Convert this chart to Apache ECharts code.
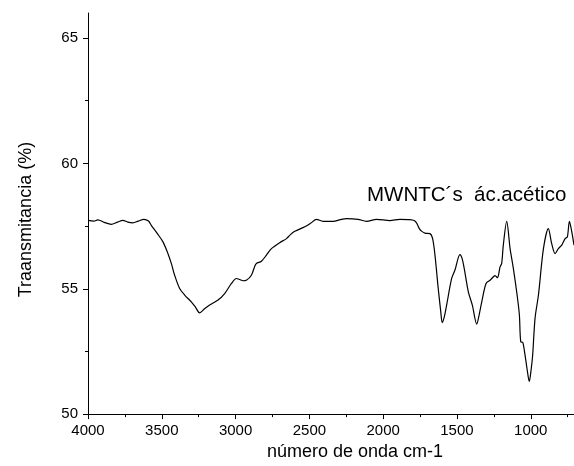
<!DOCTYPE html>
<html>
<head>
<meta charset="utf-8">
<script src="https://cdn.jsdelivr.net/npm/echarts@6/dist/echarts.min.js"></script>
<style>
    html, body { margin: 0; padding: 0; background: #fff; }
    #chart { width: 574px; height: 466px; }
</style>
</head>
<body>
<div id="chart"></div>
<script>
// numero de onda (cm-1)
const wavenumber = [
    4000, 3960, 3933, 3890, 3843, 3800, 3764, 3730, 3696, 3660,
    3621, 3590, 3571, 3530, 3492, 3458, 3435, 3413, 3379, 3345,
    3300, 3270, 3244, 3210, 3176, 3119, 3074, 3028, 2995, 2972,
    2950, 2927, 2893, 2870, 2859, 2825, 2790, 2757, 2701, 2655,
    2630, 2599, 2531, 2490, 2452, 2407, 2339, 2290, 2248, 2170,
    2113, 2045, 1955, 1887, 1819, 1790, 1773, 1755, 1740, 1717,
    1683, 1665, 1649, 1627, 1610, 1600, 1585, 1570, 1536, 1514,
    1480, 1465, 1451, 1423, 1396, 1366, 1350, 1332, 1303, 1276,
    1249, 1242, 1226, 1208, 1197, 1186, 1163, 1140, 1118, 1091,
    1077, 1068, 1054, 1039, 1025, 1010, 997, 987, 971, 948,
    914, 881, 858, 835, 813, 790, 767, 752, 738, 722, 707
];
// transmitancia (%)
const transmitancia = [
    57.73, 57.70, 57.75, 57.65, 57.57, 57.66, 57.73, 57.66, 57.63, 57.70,
    57.77, 57.70, 57.53, 57.20, 56.87, 56.40, 56.00, 55.54, 55.01, 54.75,
    54.48, 54.25, 54.04, 54.20, 54.35, 54.55, 54.81, 55.21, 55.41, 55.37,
    55.32, 55.34, 55.54, 55.90, 56.01, 56.10, 56.35, 56.60, 56.84, 57.00,
    57.15, 57.29, 57.47, 57.62, 57.77, 57.69, 57.69, 57.76, 57.80, 57.77,
    57.69, 57.77, 57.72, 57.77, 57.76, 57.72, 57.62, 57.40, 57.30, 57.22,
    57.20, 57.00, 56.34, 55.01, 54.10, 53.65, 53.90, 54.35, 55.41, 55.74,
    56.36, 56.20, 55.81, 54.88, 54.35, 53.59, 53.95, 54.48, 55.21, 55.34,
    55.50, 55.52, 55.44, 55.87, 56.01, 56.74, 57.69, 56.60, 55.81, 54.68,
    53.95, 52.89, 52.86, 52.36, 51.80, 51.30, 51.80, 52.36, 53.82, 54.75,
    56.60, 57.40, 56.80, 56.40, 56.60, 56.74, 57.00, 57.07, 57.69, 57.27, 56.74
];

const xMajor = [1000, 1500, 2000, 2500, 3000, 3500, 4000];
const xMinor = [750, 1250, 1750, 2250, 2750, 3250, 3750];
const yMajor = [50, 55, 60, 65];
const yMinor = [52.5, 57.5, 62.5];

const seriesName = 'MWNTC´s  ác.acético';

const font = 'Liberation Sans, Arial, sans-serif';
const black = '#000';

const chart = echarts.init(document.getElementById('chart'));

const xBase = {
    type: 'value',
    position: 'bottom',
    min: 707,
    max: 4000,
    inverse: true,
    splitLine: { show: false }
};
const yBase = {
    type: 'value',
    position: 'left',
    min: 50,
    max: 66,
    splitLine: { show: false }
};

const option = {
    animation: false,
    backgroundColor: '#fff',
    grid: { left: 88, right: 0, top: 13, bottom: 50 },
    xAxis: [
        Object.assign({}, xBase, {
            name: 'número de onda cm-1',
            nameLocation: 'middle',
            nameGap: 28,
            nameTextStyle: { color: black, fontFamily: font, fontSize: 18, padding: [0, 0, 0, 48] },
            axisLine: { show: true, lineStyle: { color: black, width: 1 } },
            axisTick: { show: true, inside: false, length: 5, customValues: xMajor, lineStyle: { color: black } },
            axisLabel: {
                customValues: xMajor, margin: 9, color: black, fontFamily: font, fontSize: 15,
                formatter: v => String(v)
            }
        }),
        // ticks menores
        Object.assign({}, xBase, {
            axisLine: { show: false },
            axisTick: { show: true, inside: false, length: 3, customValues: xMinor, lineStyle: { color: black } },
            axisLabel: { show: false }
        })
    ],
    yAxis: [
        Object.assign({}, yBase, {
            name: 'Traansmitancia (%)',
            nameLocation: 'middle',
            nameGap: 53,
            nameTextStyle: { color: black, fontFamily: font, fontSize: 18, padding: [0, 12, 0, 0] },
            axisLine: { show: true, lineStyle: { color: black, width: 1 } },
            axisTick: { show: true, inside: false, length: 5, customValues: yMajor, lineStyle: { color: black } },
            axisLabel: { customValues: yMajor, margin: 10, color: black, fontFamily: font, fontSize: 15 }
        }),
        Object.assign({}, yBase, {
            axisLine: { show: false },
            axisTick: { show: true, inside: false, length: 3, customValues: yMinor, lineStyle: { color: black } },
            axisLabel: { show: false }
        })
    ],
    graphic: [
        {
            type: 'text',
            left: 367,
            top: 185,
            style: { text: seriesName, fill: black, font: '20.5px ' + font }
        }
    ],
    series: [
        {
            name: seriesName,
            type: 'line',
            xAxisIndex: 0,
            yAxisIndex: 0,
            data: wavenumber.map((w, i) => [w, transmitancia[i]]),
            showSymbol: false,
            smooth: 0.3,
            lineStyle: { color: black, width: 1.2 }
        }
    ]
};

chart.setOption(option);
</script>
</body>
</html>
